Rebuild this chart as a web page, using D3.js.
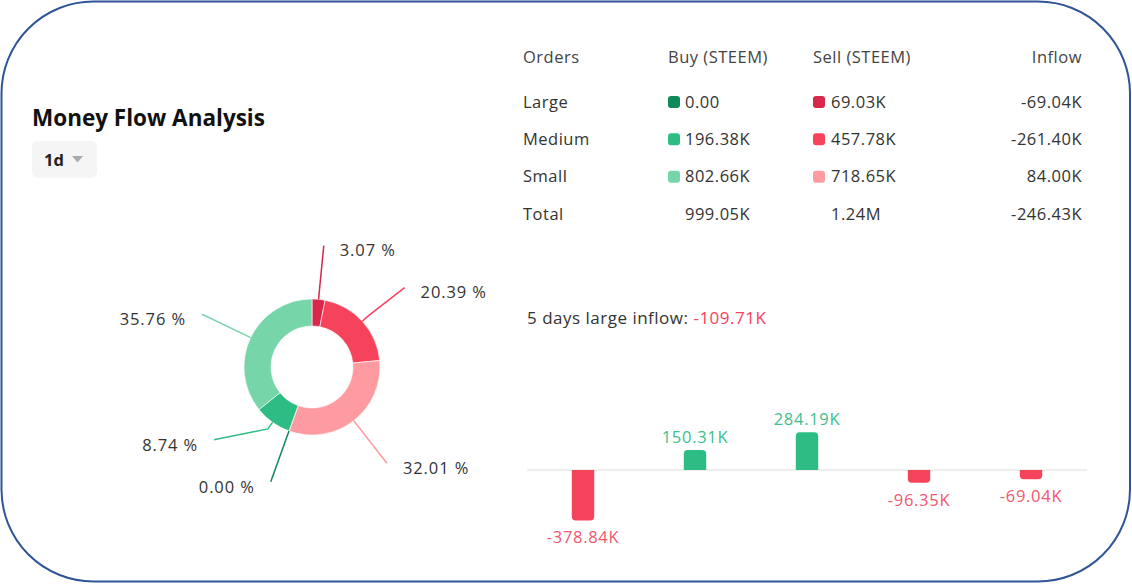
<!DOCTYPE html>
<html>
<head>
<meta charset="utf-8">
<script src="https://cdn.jsdelivr.net/npm/d3@7"></script>
<style>
  html, body { margin: 0; padding: 0; background: #fff; }
  svg { display: block; }
  text { font-family: "Open Sans", Lato, sans-serif; }
</style>
</head>
<body>
<div id="chart"></div>
<script>
// ── Data ─────────────────────────────────────────────────────────────
const orderTypes = ["Large", "Medium", "Small"];
const buyValues = [0, 196.38, 802.66];        // K STEEM
const sellValues = [69.03, 457.78, 718.65];   // K STEEM
const inflowValues = [-69.04, -261.40, 84.00];
const totalLabels = ["999.05K", "1.24M", "-246.43K"];

// donut: sell large, sell medium, sell small, buy large, buy medium, buy small
const donutValues = [69.03, 457.78, 718.65, 0, 196.38, 802.66];
const donutPctLabels = ["3.07 %", "20.39 %", "32.01 %", "0.00 %", "8.74 %", "35.76 %"];

const days = ["D1", "D2", "D3", "D4", "D5"];
const largeInflow = [-378.84, 150.31, 284.19, -96.35, -69.04];
const fiveDayLabel = "-109.71K";

// ── Colours ──────────────────────────────────────────────────────────
const buyColors = ["#0f8a5a", "#2dbd84", "#77d5aa"];
const sellColors = ["#d7284b", "#f6435c", "#fe9ba0"];
const donutColors = [...sellColors, ...buyColors];
const textColor = "#333";
const upColor = "#2dbd84";
const downColor = "#f6435c";

const width = 1132, height = 584;
const fs = 16.5;        // body text size
const ls = 0.5;         // letter spacing

const svg = d3.select("#chart").append("svg")
    .attr("width", width)
    .attr("height", height);

// ── Frame ────────────────────────────────────────────────────────────
svg.append("rect")
    .attr("x", 1.5).attr("y", 1.5)
    .attr("width", width - 3.5).attr("height", height - 4)
    .attr("rx", 92).attr("ry", 92)
    .attr("fill", "#fff")
    .attr("stroke", "#2f5597")
    .attr("stroke-width", 2);

// ── Title & period button ────────────────────────────────────────────
svg.append("text")
    .attr("x", 32).attr("y", 126)
    .attr("font-size", 22.5).attr("font-weight", "bold")
    .attr("fill", "#111")
    .text("Money Flow Analysis");

svg.append("rect")
    .attr("x", 32).attr("y", 141)
    .attr("width", 65).attr("height", 37)
    .attr("rx", 6)
    .attr("fill", "#f5f5f5");
svg.append("text")
    .attr("x", 44).attr("y", 160)
    .attr("dy", "0.35em")
    .attr("font-size", 16.5).attr("font-weight", "bold")
    .attr("fill", "#222")
    .text("1d");
svg.append("path")
    .attr("d", "M72,156 L83,156 L77.5,162.5 Z")
    .attr("fill", "#aaa");

// ── Orders table ─────────────────────────────────────────────────────
const headY = 57;
const rowY = d3.scalePoint()
    .domain([...orderTypes, "Total"])
    .range([102, 214]);
const colX = { orders: 523, buySq: 668, buy: 685, sellSq: 813, sell: 831, inflow: 1082 };

const table = svg.append("g")
    .attr("font-size", fs)
    .attr("letter-spacing", ls)
    .attr("fill", textColor);

const header = table.append("g").attr("fill", "#444");
header.append("text").attr("x", colX.orders).attr("y", headY).attr("dy", "0.35em").text("Orders");
header.append("text").attr("x", colX.buySq).attr("y", headY).attr("dy", "0.35em").text("Buy (STEEM)");
header.append("text").attr("x", colX.sellSq).attr("y", headY).attr("dy", "0.35em").text("Sell (STEEM)");
header.append("text").attr("x", colX.inflow).attr("y", headY).attr("dy", "0.35em")
    .attr("text-anchor", "end").text("Inflow");

const fmtK = v => v === 0 ? "0.00" : v.toFixed(2) + "K";

const rows = table.selectAll("g.row")
    .data(orderTypes)
    .join("g")
    .attr("class", "row")
    .attr("transform", d => `translate(0,${rowY(d)})`);

rows.append("text").attr("x", colX.orders).attr("dy", "0.35em").text(d => d);
rows.append("rect")
    .attr("x", colX.buySq).attr("y", -6)
    .attr("width", 12).attr("height", 12).attr("rx", 3)
    .attr("fill", (d, i) => buyColors[i]);
rows.append("text").attr("x", colX.buy).attr("dy", "0.35em").text((d, i) => fmtK(buyValues[i]));
rows.append("rect")
    .attr("x", colX.sellSq).attr("y", -6)
    .attr("width", 12).attr("height", 12).attr("rx", 3)
    .attr("fill", (d, i) => sellColors[i]);
rows.append("text").attr("x", colX.sell).attr("dy", "0.35em").text((d, i) => fmtK(sellValues[i]));
rows.append("text").attr("x", colX.inflow).attr("dy", "0.35em")
    .attr("text-anchor", "end").text((d, i) => fmtK(inflowValues[i]));

const totalRow = table.append("g").attr("transform", `translate(0,${rowY("Total")})`);
totalRow.append("text").attr("x", colX.orders).attr("dy", "0.35em").text("Total");
totalRow.append("text").attr("x", colX.buy).attr("dy", "0.35em").text(totalLabels[0]);
totalRow.append("text").attr("x", colX.sell).attr("dy", "0.35em").text(totalLabels[1]);
totalRow.append("text").attr("x", colX.inflow).attr("dy", "0.35em")
    .attr("text-anchor", "end").text(totalLabels[2]);

// ── Donut ────────────────────────────────────────────────────────────
const cx = 312, cy = 367;
const outerR = 68, innerR = 41, labelR = 122;

const pie = d3.pie().sort(null).value(d => d);
const arcs = pie(donutValues);
const arc = d3.arc().innerRadius(innerR).outerRadius(outerR);

const donut = svg.append("g").attr("transform", `translate(${cx},${cy})`);

donut.selectAll("path.slice")
    .data(arcs)
    .join("path")
    .attr("class", "slice")
    .attr("d", arc)
    .attr("fill", (d, i) => donutColors[i])
    .attr("stroke", "#fff")
    .attr("stroke-width", 0.6);

// label anchors: radial, with a simple push-apart on each side
const polar = (a, r) => [Math.sin(a) * r, -Math.cos(a) * r];
const labels = arcs.map((d, i) => {
    const a = (d.startAngle + d.endAngle) / 2;
    const [ex, ey] = polar(a, labelR);
    return { i, a, ex, ey, right: Math.sin(a) >= 0 };
});
const minGap = 42;
[true, false].forEach(side => {
    const lower = labels.filter(l => l.right === side && l.ey > 0).sort((p, q) => q.ey - p.ey);
    for (let k = 1; k < lower.length; k++) {
        if (lower[k - 1].ey - lower[k].ey < minGap) lower[k].ey = lower[k - 1].ey - minGap;
    }
    const upper = labels.filter(l => l.right === side && l.ey <= 0).sort((p, q) => p.ey - q.ey);
    for (let k = 1; k < upper.length; k++) {
        if (upper[k].ey - upper[k - 1].ey < minGap) upper[k].ey = upper[k - 1].ey + minGap;
    }
});
labels.forEach(l => {
    const dx = Math.sqrt(Math.max(labelR * labelR - l.ey * l.ey, 0));
    l.ex = l.right ? dx : -dx;
});

donut.selectAll("polyline.leader")
    .data(labels)
    .join("polyline")
    .attr("class", "leader")
    .attr("points", l => {
        const p0 = polar(l.a, outerR);
        const p1 = polar(l.a, outerR + 8);
        return [p0, p1, [l.ex, l.ey]].map(p => p.join(",")).join(" ");
    })
    .attr("fill", "none")
    .attr("stroke", l => donutColors[l.i])
    .attr("stroke-width", 1.5);

donut.selectAll("text.pct")
    .data(labels)
    .join("text")
    .attr("class", "pct")
    .attr("x", l => l.right ? l.ex + 16 : l.ex - 16)
    .attr("y", l => l.ey + 5)
    .attr("dy", "0.35em")
    .attr("text-anchor", l => l.right ? "start" : "end")
    .attr("font-size", fs)
    .attr("letter-spacing", 0.9)
    .attr("fill", textColor)
    .text(l => donutPctLabels[l.i]);

// ── 5 days large inflow bars ─────────────────────────────────────────
const subtitle = svg.append("text")
    .attr("x", 527).attr("y", 318)
    .attr("dy", "0.35em")
    .attr("font-size", 17)
    .attr("letter-spacing", ls)
    .attr("fill", textColor);
subtitle.append("tspan").text("5 days large inflow: ");
subtitle.append("tspan").attr("fill", downColor).text(fiveDayLabel);

const x = d3.scaleBand()
    .domain(days)
    .range([527, 1087])
    .paddingInner(0.8)
    .paddingOuter(0.4);

const y = d3.scaleLinear()
    .domain([-400, 300])
    .range([523.2, 430.1]);

svg.append("line")
    .attr("x1", 527).attr("x2", 1087)
    .attr("y1", y(0)).attr("y2", y(0))
    .attr("stroke", "#e8e8e8")
    .attr("stroke-width", 1.5);

// bar with rounded outer end
function barPath(d, i) {
    const x0 = x(days[i]), w = x.bandwidth();
    const y0 = y(0), y1 = y(d);
    const r = Math.min(4, Math.abs(y1 - y0));
    if (d >= 0) {
        return `M${x0},${y0} V${y1 + r} Q${x0},${y1} ${x0 + r},${y1} H${x0 + w - r} Q${x0 + w},${y1} ${x0 + w},${y1 + r} V${y0} Z`;
    }
    return `M${x0},${y0} V${y1 - r} Q${x0},${y1} ${x0 + r},${y1} H${x0 + w - r} Q${x0 + w},${y1} ${x0 + w},${y1 - r} V${y0} Z`;
}

svg.append("g")
    .selectAll("path")
    .data(largeInflow)
    .join("path")
    .attr("d", barPath)
    .attr("fill", d => d >= 0 ? upColor : downColor);

svg.append("g")
    .selectAll("text")
    .data(largeInflow)
    .join("text")
    .attr("x", (d, i) => x(days[i]) + x.bandwidth() / 2)
    .attr("y", d => d >= 0 ? y(d) - 13 : y(d) + 17)
    .attr("dy", "0.35em")
    .attr("text-anchor", "middle")
    .attr("font-size", fs)
    .attr("letter-spacing", 0.7)
    .attr("fill", d => d >= 0 ? "#3cc08d" : "#f3566e")
    .text(d => d.toFixed(2) + "K");
</script>
</body>
</html>
